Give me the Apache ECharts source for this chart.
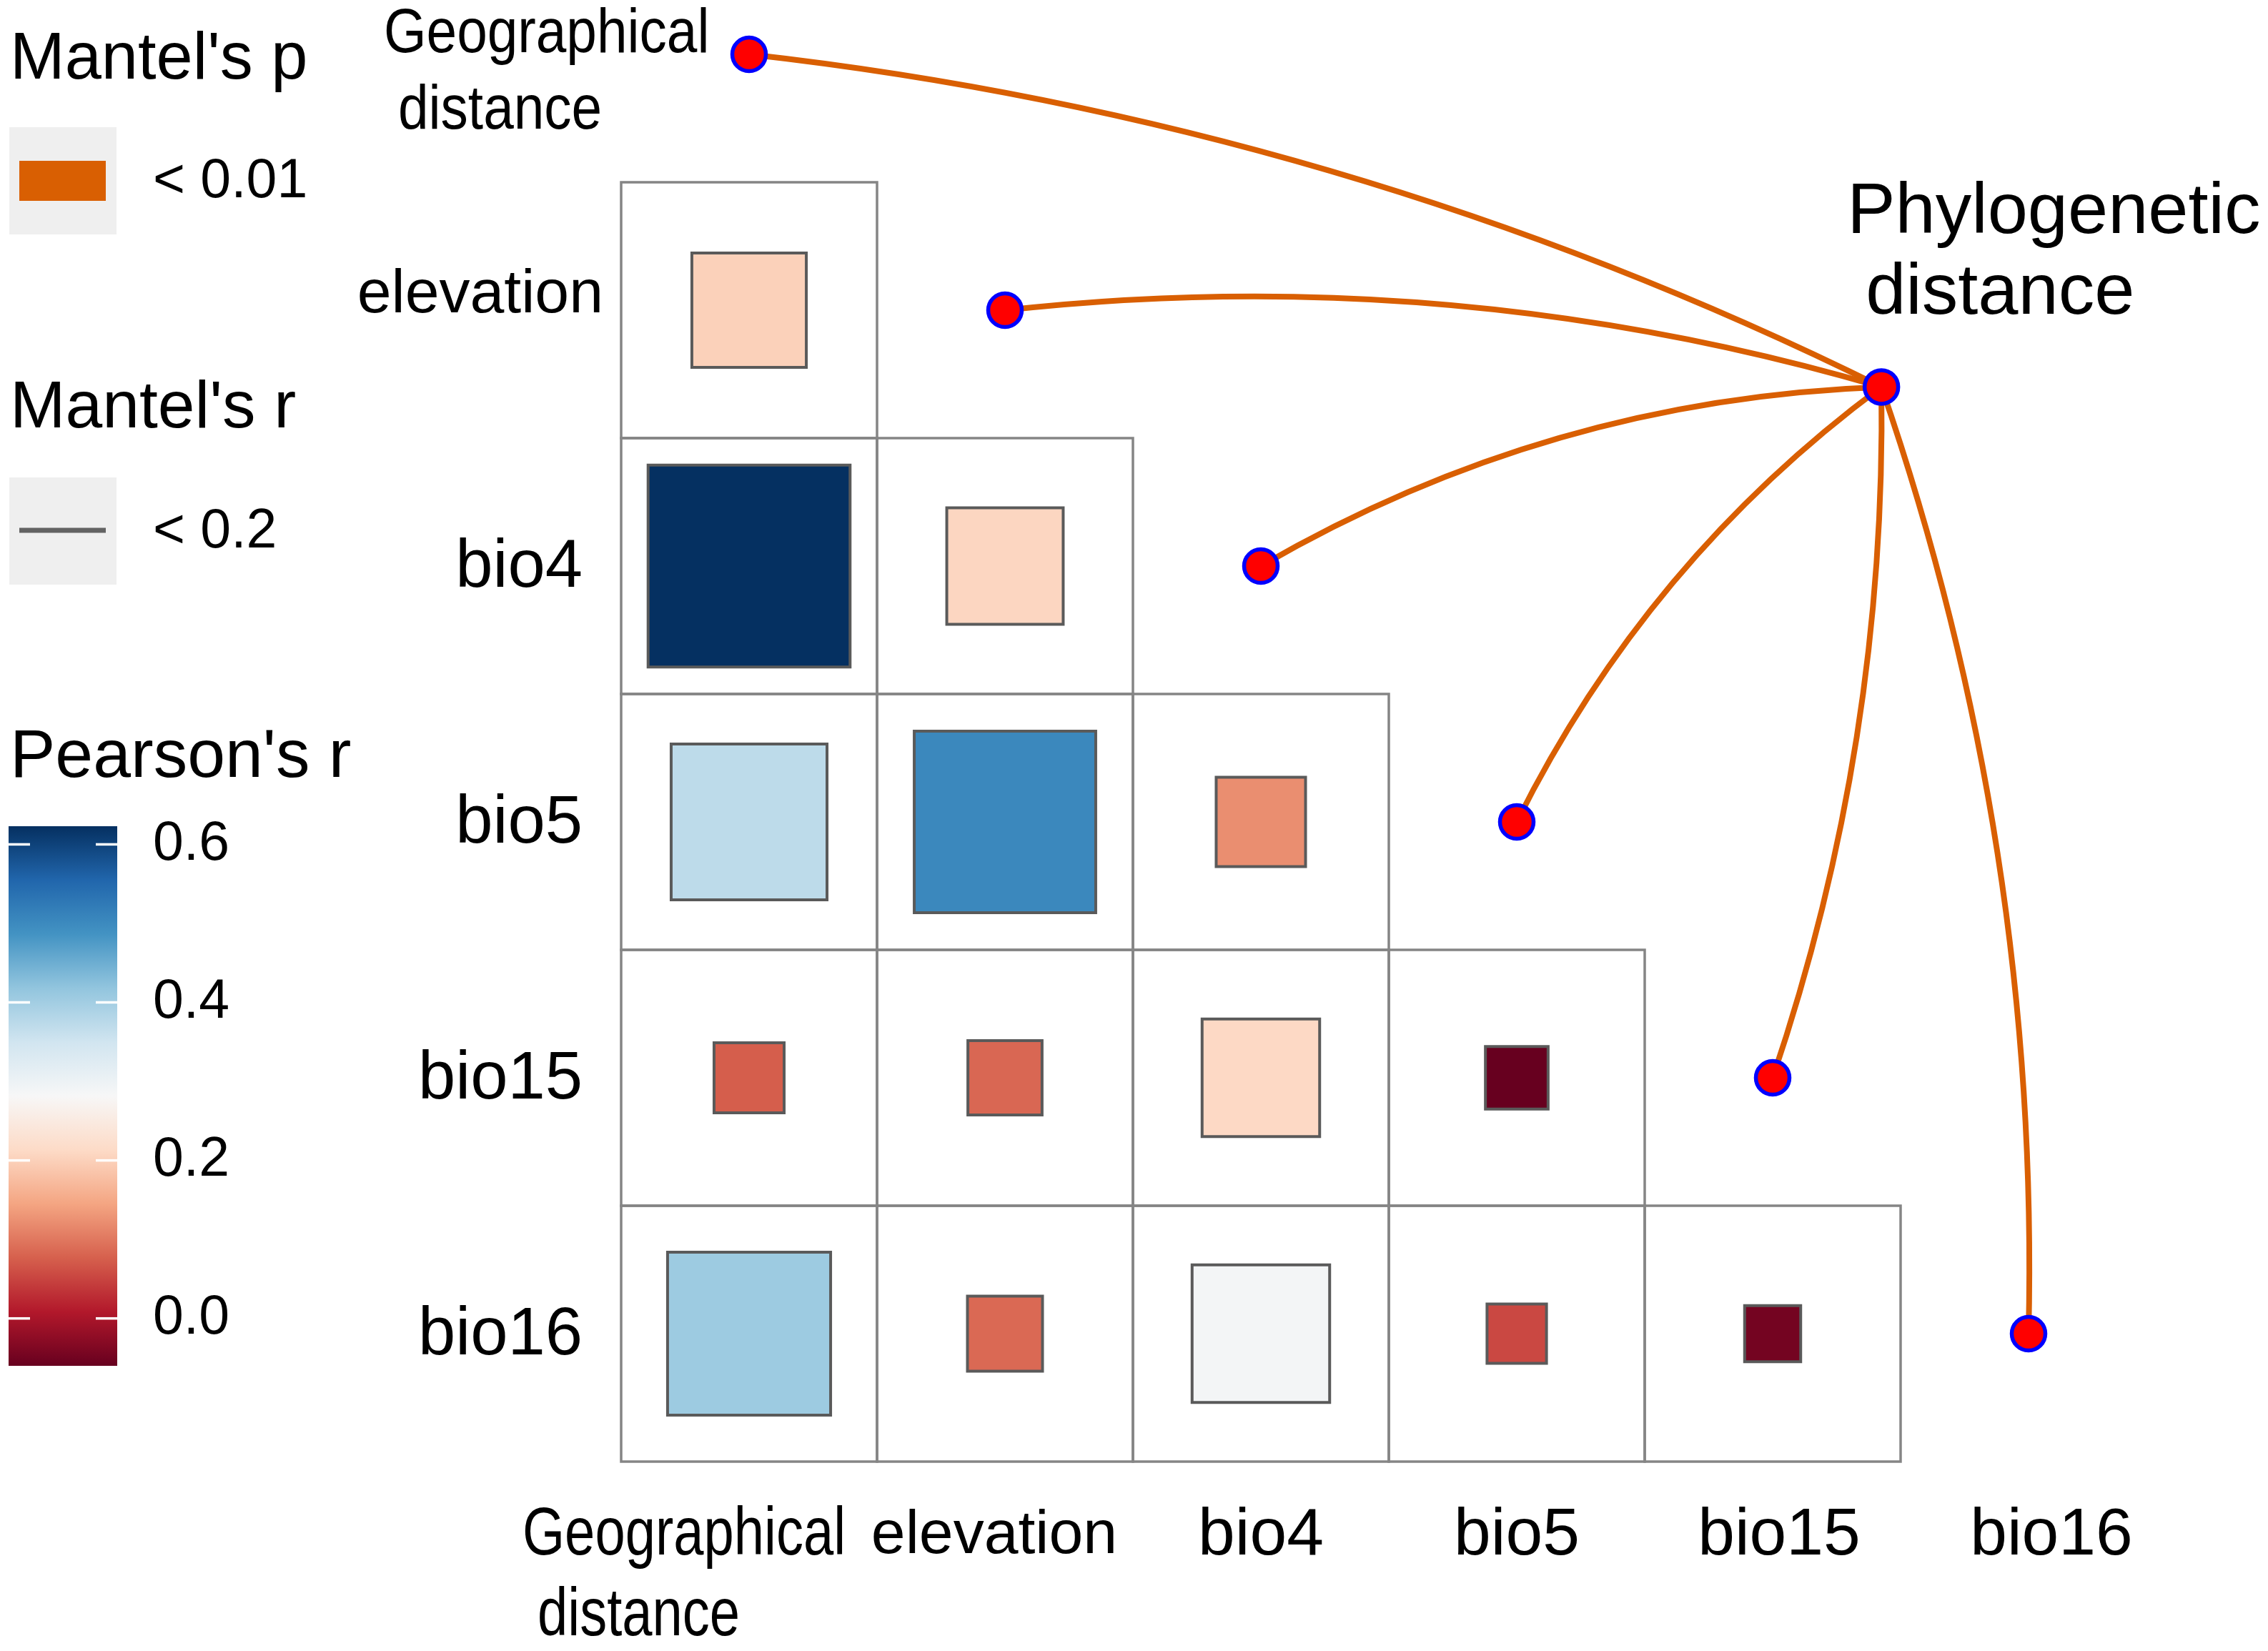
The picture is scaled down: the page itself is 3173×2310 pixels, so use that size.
<!DOCTYPE html>
<html><head><meta charset="utf-8">
<script src="https://cdn.jsdelivr.net/npm/echarts@6/dist/echarts.min.js"></script>
<style>html,body{margin:0;padding:0;background:#fff}#c{width:3173px;height:2310px}</style>
</head><body><div id="c"></div>
<script>
// ---------------- DATA ----------------
const colNames = ['Geographical distance', 'elevation', 'bio4', 'bio5', 'bio15', 'bio16'];
const rowNames = ['elevation', 'bio4', 'bio5', 'bio15', 'bio16'];
// Pearson's r, lower triangle (row variable vs column variable)
const pearsonElevation = [0.200];
const pearsonBio4 = [0.623, 0.207];
const pearsonBio5 = [0.371, 0.503, 0.122];
const pearsonBio15 = [0.075, 0.084, 0.211, -0.060];
const pearsonBio16 = [0.406, 0.086, 0.289, 0.054, -0.048];
// Mantel test: every environmental variable vs phylogenetic distance
const mantelEnv = ['Geographical distance', 'elevation', 'bio4', 'bio5', 'bio15', 'bio16'];
const mantelSpec = 'Phylogenetic distance';
const mantelP = ['< 0.01', '< 0.01', '< 0.01', '< 0.01', '< 0.01', '< 0.01'];
const mantelR = ['< 0.2', '< 0.2', '< 0.2', '< 0.2', '< 0.2', '< 0.2'];
const pearsonTicks = [0, 0.2, 0.4, 0.6];

// ---------------- STYLE ----------------
const RDBU = ['#67001F','#B2182B','#D6604D','#F4A582','#FDDBC7','#F7F7F7','#D1E5F0','#92C5DE','#4393C3','#2166AC','#053061'];
const P_COLOR = {'< 0.01': '#D95F02'};
const R_WIDTH = {'< 0.2': 8};
const LINK_CURVE = [0.088, 0.10, 0.125, 0.12, -0.086, -0.09];
const FONT = "'Liberation Sans', Arial, sans-serif";

// ---------------- BUILD ----------------
const pearsonRows = [pearsonElevation, pearsonBio4, pearsonBio5, pearsonBio15, pearsonBio16];
const cellData = [];
pearsonRows.forEach((vals, j) => vals.forEach((r, i) => cellData.push([i, j, r])));
const allR = cellData.map(d => d[2]);
const rMin = Math.min(...allR), rMax = Math.max(...allR);

// node anchors: env variable i sits on the diagonal slot, spec node on the right
const envNodes = mantelEnv.map((n, i) => [i + 0.5, i - 0.5]);
const specNode = [4.925, 0.80];

const linkData = mantelEnv.map((n, i) => ({
  coords: [envNodes[i], specNode],
  lineStyle: {color: P_COLOR[mantelP[i]], width: R_WIDTH[mantelR[i]], curveness: LINK_CURVE[i], opacity: 1}
}));

function twoLine(name) {
  const k = name.indexOf(' ');
  return ['{a|' + name.slice(0, k) + '}', '{b|' + name.slice(k + 1) + '}'].join('\n');
}
const nodeData = envNodes.map((p, i) => ({value: p, name: mantelEnv[i]}));
nodeData.push({
  value: specNode, name: mantelSpec,
  label: {
    show: true, position: 'inside', align: 'left', verticalAlign: 'top', offset: [-48, -299.5], color: '#000',
    formatter: twoLine(mantelSpec),
    rich: {
      a: {fontFamily: FONT, fontSize: 101, lineHeight: 113, color: '#000'},
      b: {fontFamily: FONT, fontSize: 101, lineHeight: 113, color: '#000', padding: [0, 0, 0, 26]}
    }
  }
});

function xLabel(v) {
  const i = Math.round(v - 0.5);
  if (Math.abs(v - 0.5 - i) > 1e-6 || i < 0 || i >= colNames.length) return '';
  const n = colNames[i];
  if (n.indexOf(' ') > 0) return '';   // two-line condensed label drawn by the label series
  if (n === 'elevation') return '{el|' + n + '}';
  if (n === 'bio16') return '{b16|' + n + '}';
  if (n === 'bio15') return '{b15|' + n + '}';
  return '{b|' + n + '}';
}
function yLabel(v) {
  const j = Math.round(v - 0.5);
  if (Math.abs(v - 0.5 - j) > 1e-6 || j < 0 || j >= rowNames.length) return '';
  const n = rowNames[j];
  return n === 'elevation' ? '{el|' + n + '}' : '{b|' + n + '}';
}

const cbStops = RDBU.map((c, i) => ({offset: 1 - i / (RDBU.length - 1), color: c}));

const option = {
  backgroundColor: '#ffffff',
  animation: false,
  textStyle: {fontFamily: FONT},
  grid: [
    {left: 869, top: 255, width: 2148, height: 1790},
    {left: 12, top: 1156, width: 152, height: 755}
  ],
  xAxis: [
    {type: 'value', gridIndex: 0, min: 0, max: 6,
     axisLine: {show: false}, axisTick: {show: false}, splitLine: {show: false},
     axisLabel: {
       customValues: colNames.map((n, i) => i + 0.5), formatter: xLabel, margin: 48, color: '#000', hideOverlap: false,
       rich: {
         el: {fontSize: 86, lineHeight: 113, color: '#000', padding: [0, 30, 0, 0]},
         b: {fontSize: 93, lineHeight: 113, color: '#000'},
         b15: {fontSize: 93, lineHeight: 113, color: '#000', padding: [0, 0, 0, 18]},
         b16: {fontSize: 93, lineHeight: 113, color: '#000', padding: [0, 0, 0, 64]}
       }
     }},
    {type: 'value', gridIndex: 1, min: 0, max: 1, show: false}
  ],
  yAxis: [
    {type: 'value', gridIndex: 0, min: 0, max: 5, inverse: true,
     axisLine: {show: false}, axisTick: {show: false}, splitLine: {show: false},
     axisLabel: {
       customValues: rowNames.map((n, j) => j + 0.5), formatter: yLabel, margin: 25, color: '#000',
       rich: {
         el: {fontSize: 86, color: '#000', padding: [0, 0, 42, 0]},
         b: {fontSize: 94, color: '#000', padding: [6, 29, 0, 0]}
       }
     }},
    {type: 'value', gridIndex: 1, min: rMin, max: rMax, position: 'right',
     axisLine: {show: false}, splitLine: {show: false}, axisTick: {show: false},
     axisLabel: {customValues: pearsonTicks, margin: 50, fontSize: 77, color: '#000',
                 formatter: v => v.toFixed(1)}}
  ],
  visualMap: {
    type: 'continuous', show: false, seriesIndex: 0, dimension: 2,
    min: rMin, max: rMax, inRange: {color: RDBU}
  },
  series: [
    {
      type: 'custom', xAxisIndex: 0, yAxisIndex: 0, data: cellData, z: 1,
      renderItem: function (params, api) {
        const col = api.value(0), row = api.value(1), r = api.value(2);
        const c = api.coord([col + 0.5, row + 0.5]);
        const s = api.size([1, 1]);
        const side = s[0] * Math.sqrt(Math.abs(r));
        return {type: 'group', children: [
          {type: 'rect', shape: {x: c[0] - s[0] / 2, y: c[1] - s[1] / 2, width: s[0], height: s[1]},
           style: {fill: 'none', stroke: '#858585', lineWidth: 3.5}},
          {type: 'rect', shape: {x: c[0] - side / 2, y: c[1] - side / 2, width: side, height: side},
           style: {fill: api.visual('color'), stroke: '#5a5a5a', lineWidth: 4}}
        ]};
      }
    },
    {
      type: 'lines', coordinateSystem: 'cartesian2d', xAxisIndex: 0, yAxisIndex: 0, z: 3,
      clip: false, symbol: 'none', data: linkData,
      lineStyle: {opacity: 1}
    },
    {
      type: 'scatter', xAxisIndex: 0, yAxisIndex: 0, z: 4, clip: false,
      symbol: 'circle', symbolSize: 47, data: nodeData,
      itemStyle: {color: '#ff0000', borderColor: '#0000ff', borderWidth: 5.5, opacity: 1},
      emphasis: {disabled: true}
    },
    {
      // condensed two-line labels of "Geographical distance" (node label on top, column label at bottom)
      type: 'custom', xAxisIndex: 0, yAxisIndex: 0, z: 5, data: [[0]],
      renderItem: function (params, api) {
        const i = api.value(0);
        const name = colNames[i], k = name.indexOf(' ');
        const l1 = name.slice(0, k), l2 = name.slice(k + 1);
        const top = api.coord(envNodes[i]);
        const bot = api.coord([i + 0.5, rowNames.length]);
        const mk = (p, dx, dy, txt, size, sx) => ({
          type: 'text', x: p[0] + dx, y: p[1] + dy, scaleX: sx,
          style: {text: txt, font: size + 'px ' + FONT, fill: '#000', align: 'left', verticalAlign: 'middle'}
        });
        return {type: 'group', children: [
          mk(top, -511, -27.5, l1, 88, 0.87), mk(top, -491, 79.5, l2, 88, 0.87),
          mk(bot, -317, 104, l1, 95, 0.80), mk(bot, -296, 217, l2, 95, 0.80)
        ]};
      }
    },
    {
      // colour bar with white tick marks at both edges
      type: 'custom', xAxisIndex: 1, yAxisIndex: 1, z: 1, data: [[0, rMin, 1, rMax]],
      renderItem: function (params, api) {
        const p1 = api.coord([api.value(0), api.value(3)]);
        const p2 = api.coord([api.value(2), api.value(1)]);
        const children = [{type: 'rect', shape: {x: p1[0], y: p1[1], width: p2[0] - p1[0], height: p2[1] - p1[1]},
          style: {fill: new echarts.graphic.LinearGradient(0, 0, 0, 1, cbStops)}}];
        const tickLen = 30;
        pearsonTicks.forEach(t => {
          const y = api.coord([0, t])[1];
          children.push({type: 'line', shape: {x1: p1[0], y1: y, x2: p1[0] + tickLen, y2: y}, style: {stroke: '#ffffff', lineWidth: 3.5}});
          children.push({type: 'line', shape: {x1: p2[0] - tickLen, y1: y, x2: p2[0], y2: y}, style: {stroke: '#ffffff', lineWidth: 3.5}});
        });
        return {type: 'group', children: children};
      }
    }
  ],
  graphic: [
    {type: 'text', style: {x: 14, y: 117 - 0.3465 * 92, text: "Mantel's p", font: '92px ' + FONT, fill: '#000', verticalAlign: 'middle'}},
    {type: 'rect', shape: {x: 13, y: 178, width: 150, height: 150}, style: {fill: '#EFEFEF'}},
    {type: 'rect', shape: {x: 27, y: 225, width: 121, height: 56}, style: {fill: P_COLOR['< 0.01']}},
    {type: 'text', style: {x: 214, y: 281 - 0.3465 * 77, text: '< 0.01', font: '77px ' + FONT, fill: '#000', verticalAlign: 'middle'}},
    {type: 'text', style: {x: 14, y: 605 - 0.3465 * 93, text: "Mantel's r", font: '93px ' + FONT, fill: '#000', verticalAlign: 'middle'}},
    {type: 'rect', shape: {x: 13, y: 668, width: 150, height: 150}, style: {fill: '#EFEFEF'}},
    {type: 'line', shape: {x1: 27, y1: 742, x2: 148, y2: 742}, style: {stroke: '#636363', lineWidth: 7}},
    {type: 'text', style: {x: 214, y: 771 - 0.3465 * 77, text: '< 0.2', font: '77px ' + FONT, fill: '#000', verticalAlign: 'middle'}},
    {type: 'text', style: {x: 14, y: 1094 - 0.3465 * 95, text: "Pearson's r", font: '95px ' + FONT, fill: '#000', verticalAlign: 'middle'}}
  ]
};
const chart = echarts.init(document.getElementById('c'));
chart.setOption(option);
</script></body></html>
